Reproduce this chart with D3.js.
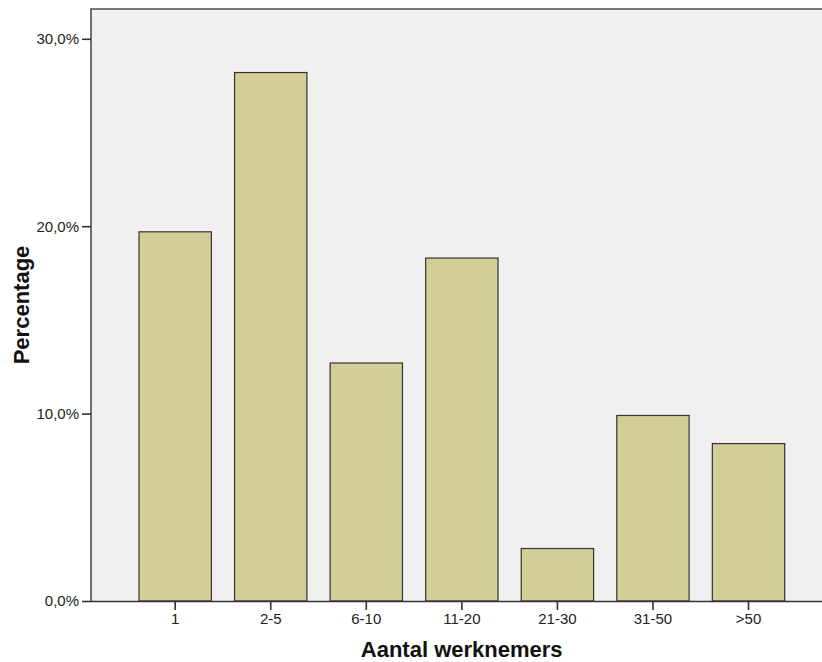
<!DOCTYPE html>
<html>
<head>
<meta charset="utf-8">
<script src="https://cdn.jsdelivr.net/npm/d3@7"></script>
<style>
  html, body { margin: 0; padding: 0; background: #fff; }
  svg { display: block; }
  text { font-family: "Liberation Sans", Arial, sans-serif; }
</style>
</head>
<body>
<svg id="chart" width="822" height="662"></svg>
<script>
const categories = ["1", "2-5", "6-10", "11-20", "21-30", "31-50", ">50"];
const percentages = [19.7, 28.2, 12.7, 18.3, 2.8, 9.9, 8.4];
const yTicks = [0, 10, 20, 30];
const xTitle = "Aantal werknemers";
const yTitle = "Percentage";

const svg = d3.select("#chart");
const plot = { left: 91, top: 9, bottom: 601, right: 834 };

const x = d3.scaleBand()
  .domain(categories)
  .range([127.4, 796.3])
  .paddingInner(0.243)
  .paddingOuter(0.1215);

const y = d3.scaleLinear()
  .domain([0, 30])
  .range([plot.bottom, 38.8]);

// plot background
svg.append("rect")
  .attr("x", plot.left)
  .attr("y", plot.top)
  .attr("width", plot.right - plot.left)
  .attr("height", plot.bottom - plot.top)
  .attr("fill", "#f0f0f0");

// bars
svg.append("g")
  .selectAll("rect")
  .data(categories.map((c, i) => ({ c, v: percentages[i] })))
  .join("rect")
  .attr("x", d => x(d.c))
  .attr("y", d => y(d.v))
  .attr("width", x.bandwidth())
  .attr("height", d => y(0) - y(d.v))
  .attr("fill", "#d3ce98")
  .attr("stroke", "#333")
  .attr("stroke-width", 1.2);

// frame (top + left)
svg.append("path")
  .attr("d", `M${plot.left},${plot.bottom} V${plot.top} H${plot.right}`)
  .attr("fill", "none")
  .attr("stroke", "#505050")
  .attr("stroke-width", 1.6);

const fmt = v => d3.format(".1f")(v).replace(".", ",") + "%";

// y axis
const yAxis = d3.axisLeft(y).tickValues(yTicks).tickFormat(fmt).tickSize(9).tickPadding(3);
const gy = svg.append("g").attr("transform", `translate(${plot.left},0)`).call(yAxis);
gy.select(".domain").remove();
gy.selectAll(".tick line").attr("stroke", "#333").attr("stroke-width", 1.6);
gy.selectAll(".tick text").attr("fill", "#222").style("font-size", "15px")
  .style("font-family", "'Liberation Sans', Arial, sans-serif");

// x axis
const xAxis = d3.axisBottom(x).tickSize(9).tickPadding(3);
const gx = svg.append("g").attr("transform", `translate(0,${plot.bottom})`).call(xAxis);
gx.select(".domain").attr("d", `M${plot.left},0.5H${plot.right}`).attr("stroke", "#333").attr("stroke-width", 1.6);
gx.selectAll(".tick line").attr("stroke", "#333").attr("stroke-width", 1.6);
gx.selectAll(".tick text").attr("fill", "#222").style("font-size", "15px")
  .style("font-family", "'Liberation Sans', Arial, sans-serif");

// axis titles
svg.append("text")
  .attr("x", 461.7)
  .attr("y", 657)
  .attr("text-anchor", "middle")
  .style("font-size", "22px")
  .style("font-weight", "bold")
  .attr("fill", "#111")
  .text(xTitle);

svg.append("text")
  .attr("transform", "translate(29,305) rotate(-90)")
  .attr("text-anchor", "middle")
  .style("font-size", "22px")
  .style("font-weight", "bold")
  .attr("fill", "#111")
  .text(yTitle);
</script>
</body>
</html>
